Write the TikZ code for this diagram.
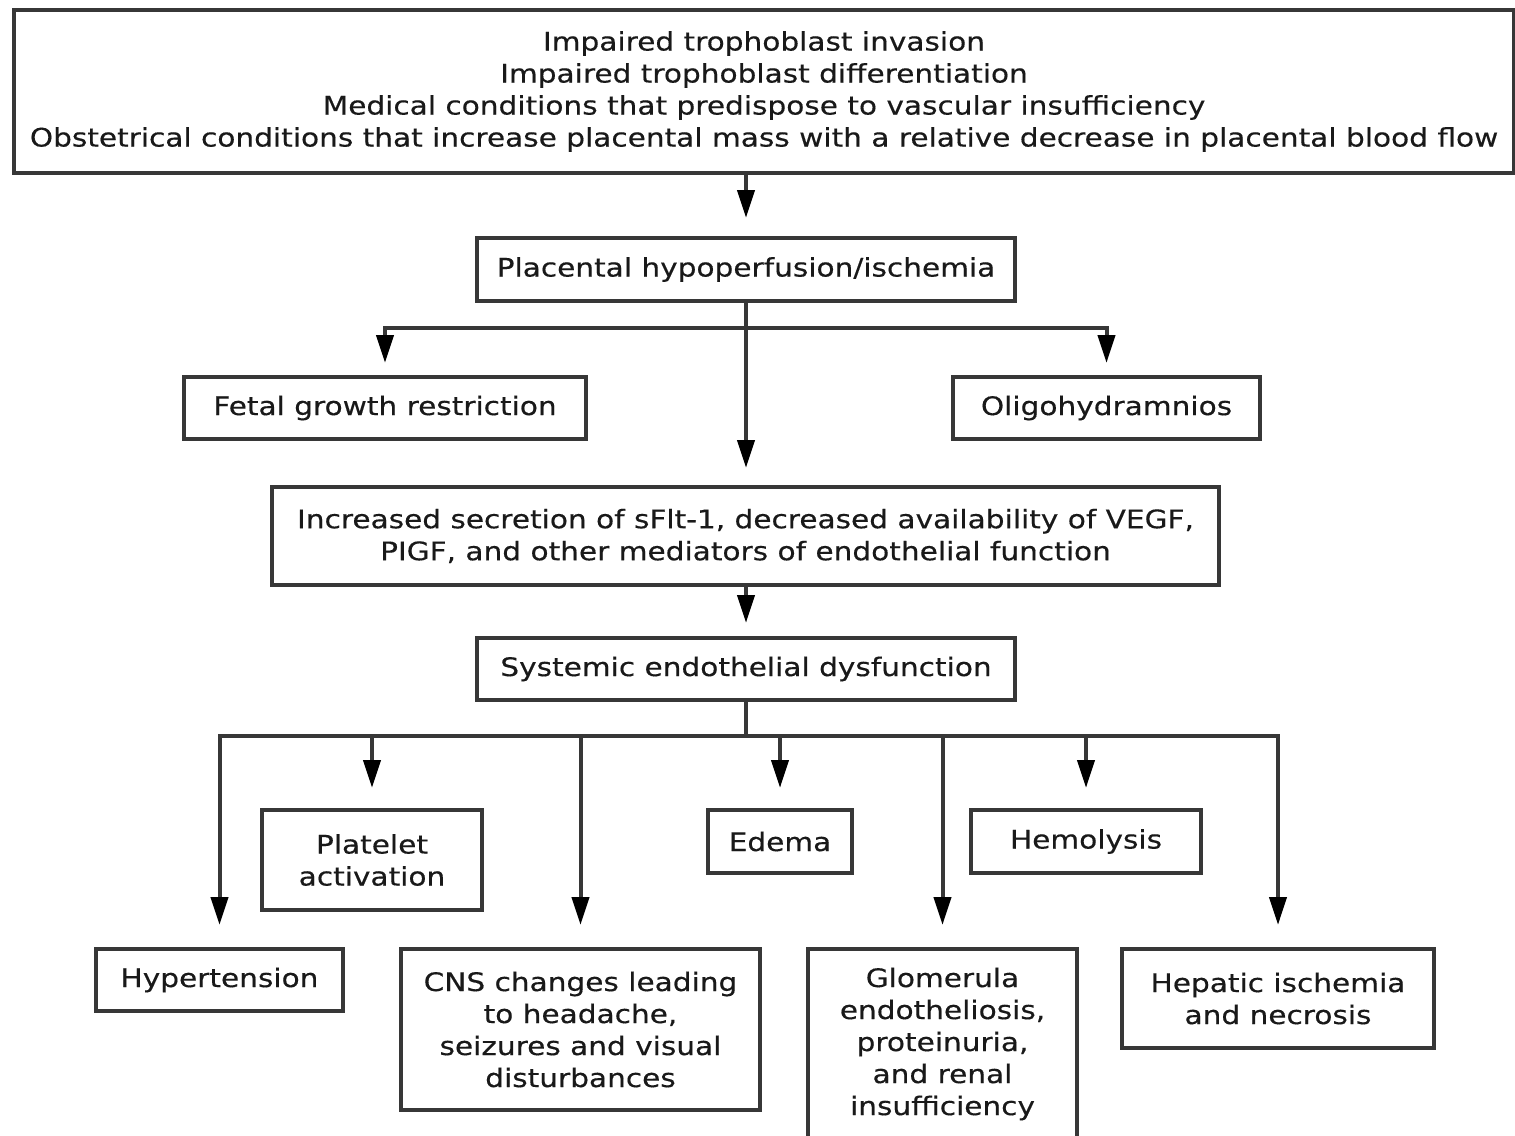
\documentclass[tikz,border=0pt]{standalone}
\usepackage{fontspec}
\setmainfont{DejaVu Sans}[FakeStretch=1.16,FakeBold=0.4]
\usetikzlibrary{arrows.meta}
\definecolor{lc}{RGB}{55,55,55}
\definecolor{tc}{RGB}{25,25,25}
\begin{document}
\begin{tikzpicture}[x=1pt,y=-1pt,
  box/.style={draw=lc, line width=4pt, align=center, inner sep=0pt,
    text=tc, font=\fontsize{25.5}{32}\selectfont},
  conn/.style={draw=lc, line width=4pt},
  arr/.style={conn, -{Triangle[length=28pt,width=17pt,color=black]}},
]
\useasboundingbox (0,0) rectangle (1515,1135);
\clip (0,0) rectangle (1515,1135);

\node[box, minimum width=1500, minimum height=163] (top) at (764,91.5)
  {Impaired trophoblast invasion\\
   Impaired trophoblast differentiation\\
   Medical conditions that predispose to vascular insufficiency\\
   Obstetrical conditions that increase placental mass with a relative decrease in placental blood flow};
\node[box, minimum width=538, minimum height=63] (p) at (746,269.5)
  {Placental hypoperfusion/ischemia};
\node[box, minimum width=402, minimum height=62] (fgr) at (385,408)
  {Fetal growth restriction};
\node[box, minimum width=307, minimum height=62] (oligo) at (1106.5,408)
  {Oligohydramnios};
\node[box, minimum width=947, minimum height=98] (sflt) at (745.5,536)
  {Increased secretion of sFlt-1, decreased availability of VEGF,\\
   PIGF, and other mediators of endothelial function};
\node[box, minimum width=538, minimum height=62] (sed) at (746,669)
  {Systemic endothelial dysfunction};
\node[box, minimum width=247, minimum height=62] (hyp) at (219.5,980)
  {Hypertension};
\node[box, minimum width=220, minimum height=100] (plt) at (372,860)
  {Platelet\\activation};
\node[box, minimum width=359, minimum height=161] (cns) at (580.5,1029.5)
  {CNS changes leading\\to headache,\\seizures and visual\\disturbances};
\node[box, minimum width=144, minimum height=63] (edema) at (780,841.5)
  {Edema};
\node[box, minimum width=269, minimum height=190] (glom) at (942.5,1044)
  {Glomerula\\endotheliosis,\\proteinuria,\\and renal\\insufficiency};
\node[box, minimum width=230, minimum height=63] (hemo) at (1086,841.5)
  {Hemolysis};
\node[box, minimum width=312, minimum height=99] (hep) at (1278,998.5)
  {Hepatic ischemia\\and necrosis};

% first level
\draw[arr, shorten >=18pt] (top.south -| p.north) -- (p.north);
\path (p.south) ++(0,25) coordinate (j1);
\draw[arr, shorten >=17pt] (p.south) -- (p.south |- sflt.north);
\draw[arr, shorten >=12pt] (j1) -| (fgr.north);
\draw[arr, shorten >=12pt] (j1) -| (oligo.north);
\draw[arr, shorten >=13pt] (sflt.south -| sed.north) -- (sed.north);

% second level
\path (sed.south) ++(0,34) coordinate (j2);
\draw[conn] (sed.south) -- (j2);
\draw[arr, shorten >=22pt] (j2) -| (hyp.north);
\draw[arr, shorten >=20pt] (j2) -| (plt.north);
\draw[arr, shorten >=22pt] (j2) -| (cns.north);
\draw[arr, shorten >=20pt] (j2) -| (edema.north);
\draw[arr, shorten >=22pt] (j2) -| (glom.north);
\draw[arr, shorten >=20pt] (j2) -| (hemo.north);
\draw[arr, shorten >=22pt] (j2) -| (hep.north);
\end{tikzpicture}
\end{document}
